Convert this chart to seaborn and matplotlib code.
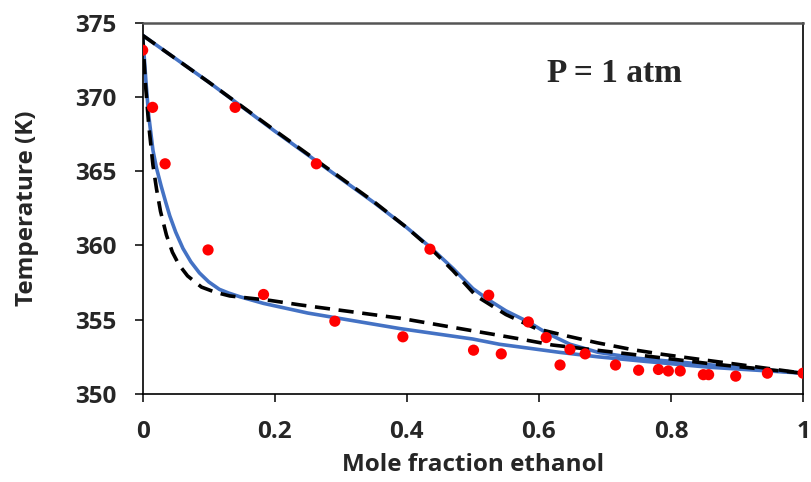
import matplotlib
matplotlib.use('Agg')
import matplotlib.pyplot as plt
import numpy as np
import pandas as pd
import seaborn as sns

# experimental points (liquid and vapour branches)
x_exp = [0, 0.015, 0.034, 0.099, 0.183, 0.291, 0.394, 0.501, 0.543, 0.632,
         0.716, 0.751, 0.781, 0.796, 0.814, 0.849, 0.857, 0.898, 0.946, 1.0,
         0.14, 0.263, 0.435, 0.524, 0.584, 0.611, 0.647, 0.670]
T_exp = [373.15, 369.3, 365.5, 359.7, 356.7, 354.9, 353.85, 352.95, 352.7, 351.95,
         351.95, 351.6, 351.65, 351.55, 351.55, 351.3, 351.3, 351.2, 351.4, 351.4,
         369.3, 365.5, 359.75, 356.65, 354.85, 353.8, 353.0, 352.7]

# model 1 (solid blue)
x_bub1 = [0, 0.0025, 0.005, 0.009, 0.0156, 0.021, 0.028, 0.035, 0.041, 0.05, 0.061, 0.073,
          0.086, 0.1, 0.116, 0.13, 0.147, 0.183, 0.25, 0.39, 0.5, 0.54, 0.632, 0.69, 0.76,
          0.858, 0.93, 1.0]
T_bub1 = [374.15, 372.6, 371.0, 368.8, 366.4, 365.2, 364.0, 362.9, 362.0, 360.9, 359.8, 358.9,
          358.15, 357.55, 357.05, 356.8, 356.55, 356.1, 355.45, 354.4, 353.7, 353.35, 352.8, 352.5, 352.2,
          351.8, 351.6, 351.4]
x_dew1 = [0, 0.1, 0.2, 0.3, 0.35, 0.4, 0.435, 0.47, 0.5, 0.525, 0.55, 0.584, 0.612,
          0.647, 0.69, 0.75, 0.85, 0.9, 1.0]
T_dew1 = [374.15, 371.0, 367.7, 364.5, 362.9, 361.2, 359.9, 358.45, 357.1, 356.3, 355.6, 354.85, 354.1,
          353.35, 352.8, 352.4, 352.0, 351.8, 351.4]

# model 2 (dashed black)
x_bub2 = [0, 0.004, 0.009, 0.0156, 0.021, 0.027, 0.036, 0.045, 0.055, 0.068, 0.089, 0.11,
          0.132, 0.193, 0.238, 0.39, 0.52, 0.572, 0.62, 0.716, 0.762, 0.811, 0.853, 0.9, 1.0]
T_bub2 = [374.15, 371.0, 368.2, 365.4, 363.8, 362.3, 360.7, 359.55, 358.7, 357.95, 357.2, 356.85,
          356.6, 356.3, 356.0, 355.1, 354.1, 353.7, 353.3, 352.8, 352.56, 352.3, 352.07, 351.85, 351.4]
x_dew2 = [0, 0.1, 0.2, 0.3, 0.35, 0.4, 0.435, 0.47, 0.505, 0.55, 0.596, 0.643, 0.688,
          0.74, 0.787, 0.832, 0.9, 0.95, 1.0]
T_dew2 = [374.15, 371.0, 367.75, 364.55, 362.95, 361.2, 359.85, 358.3, 356.6, 355.35, 354.4, 353.9, 353.45,
          353.0, 352.67, 352.4, 352.0, 351.7, 351.4]

x_ticks = [0, 0.2, 0.4, 0.6, 0.8, 1.0]
x_ticklabels = ['0', '0.2', '0.4', '0.6', '0.8', '1']
y_ticks = [350, 355, 360, 365, 370, 375]

sns.set_style('ticks')
plt.rcParams['font.family'] = ['Open Sans', 'DejaVu Sans']

fig = plt.figure(figsize = (8.12, 4.82), dpi = 100)
ax = fig.add_axes([0.1757, 0.1826, 0.8133, 0.7703])

blue = '#4472C4'
for xs, ts in [(x_bub1, T_bub1), (x_dew1, T_dew1)]:
    sns.lineplot(x = xs, y = ts, ax = ax, color = blue, lw = 2.6, sort = False, estimator = None)
for xs, ts in [(x_bub2, T_bub2), (x_dew2, T_dew2)]:
    sns.lineplot(x = xs, y = ts, ax = ax, color = 'black', lw = 2.6, sort = False, estimator = None,
                 linestyle = (0, (4.2, 2.4)))

sns.scatterplot(x = x_exp, y = T_exp, ax = ax, color = 'red', s = 65, edgecolor = 'none', zorder = 5)

ax.set_xlim(0, 1)
ax.set_ylim(350, 375)
ax.set_xticks(x_ticks)
ax.set_xticklabels(x_ticklabels)
ax.set_yticks(y_ticks)

for s in ['left', 'bottom', 'right']:
    ax.spines[s].set_color('black')
    ax.spines[s].set_linewidth(1.2)
ax.spines['top'].set_color('#555555')
ax.spines['top'].set_linewidth(1.8)

ax.tick_params(axis = 'both', direction = 'out', length = 5.5, width = 1.1, color = 'black')
ax.tick_params(axis = 'x', pad = 13.5, labelsize = 17.5)
ax.tick_params(axis = 'y', pad = 13.5, labelsize = 17.5)
for lab in ax.get_xticklabels() + ax.get_yticklabels():
    lab.set_fontweight('bold')

ax.set_xlabel('Mole fraction ethanol', fontsize = 17.5, fontweight = 'bold', labelpad = 6)
ax.set_ylabel('Temperature (K)', fontsize = 17.5, fontweight = 'bold', labelpad = 26)

ax.text(0.715, 0.864, 'P = 1 atm', transform = ax.transAxes, ha = 'center', va = 'center',
        fontsize = 24, fontweight = 'bold', family = ['Liberation Serif'])

fig.savefig('out.png', dpi = 100)
